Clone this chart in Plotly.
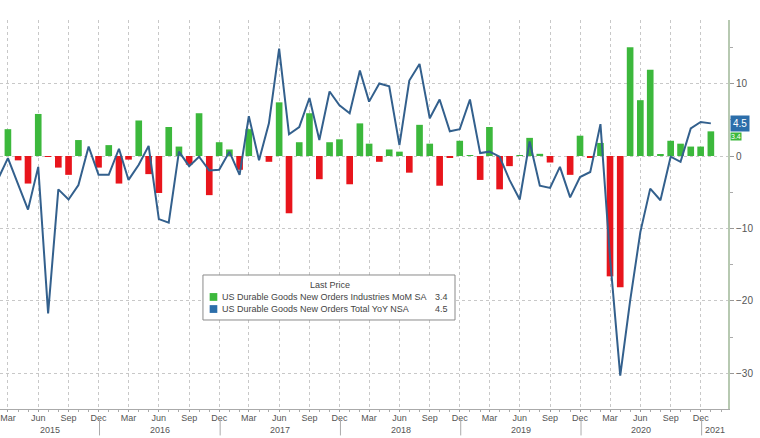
import pandas as pd
import plotly.graph_objects as go

# ---------------- data ----------------
months = pd.date_range("2015-02-01", "2021-01-01", freq="MS")

# US Durable Goods New Orders Industries MoM SA (%), Feb 2015 .. Jan 2021
mom = [None,
       3.7, -0.6, -3.8, 5.8, -0.1, -1.6, -2.6, 2.2, 0.0, -1.6,
       1.5, -3.8, -0.5, 4.9, -2.5, -5.1, 4.0, 1.3, -1.2, 5.9, -5.4, 1.9,
       0.9, -1.9, 3.7, 0.0, -0.8, 7.4, -7.9, 1.9, 5.9, -3.2, 1.9, 2.3,
       -3.9, 4.5, 1.7, -0.8, 0.9, 0.6, -2.3, 4.3, 1.7, -4.1, -0.2, 2.1,
       0.1, -3.3, 4.0, -4.6, -1.4, 0.1, 2.5, 0.3, -0.9, 0.0, -2.6, 2.8,
       -0.2, 1.8, -16.6, -18.1, 15.0, 7.7, 11.9, 0.2, 2.1, 1.7, 1.3, 1.3,
       3.4]

# US Durable Goods New Orders Total YoY NSA (%), Feb 2015 .. Jan 2021
yoy = [-3.0,
       -0.3, -3.9, -7.4, -1.5, -21.7, -4.6, -6.0, -4.0, 1.3, -2.6,
       -2.6, 1.0, -3.3, -1.2, 1.4, -8.7, -9.2, 0.6, -1.4, -0.1, -2.0, -1.9,
       0.6, -2.6, 5.5, -0.6, 4.5, 14.8, 3.0, 4.0, 8.0, 2.2, 8.9, 7.0,
       5.9, 11.8, 7.5, 10.0, 9.6, 1.5, 10.4, 12.7, 5.2, 7.8, 3.4, 3.7,
       7.8, 0.4, 0.6, -0.1, -3.3, -6.0, 2.0, -4.1, -4.4, -1.5, -5.7, -2.9,
       -2.2, 4.4, -14.0, -30.3, -20.0, -10.5, -4.5, -6.1, -0.1, -0.8, 3.8, 4.7,
       4.5]

series_names = ["US Durable Goods New Orders Industries MoM SA",
                "US Durable Goods New Orders Total YoY NSA"]
last_values = ["3.4", "4.5"]
years = [2015, 2016, 2017, 2018, 2019, 2020, 2021]
y_ticks = [-30, -20, -10, 0, 10]

# ---------------- style ----------------
GREEN = "#3cb83c"
RED = "#e8151c"
BLUE = "#33608d"
TAG_BLUE = "#2c6eaa"
FONT = "Liberation Sans"
x_lo, x_hi = pd.Timestamp("2015-02-05"), pd.Timestamp("2021-02-22")

bar_colors = [RED if (v is not None and v < 0) else GREEN for v in mom]

fig = go.Figure()
fig.add_trace(go.Bar(x=months, y=mom, marker=dict(color=bar_colors, line=dict(width=0)),
                     name=series_names[0], showlegend=False))
fig.add_trace(go.Scatter(x=months, y=yoy, mode="lines", line=dict(color=BLUE, width=2),
                         name=series_names[1], showlegend=False))

fig.update_layout(
    width=760, height=438,
    margin=dict(l=0, r=32, t=20, b=29),
    paper_bgcolor="white", plot_bgcolor="white",
    bargap=0.28,
    font=dict(family=FONT, size=9, color="#555555"),
    xaxis=dict(
        type="date", range=[x_lo, x_hi],
        tick0="2015-03-01", dtick="M3", tickformat="%b",
        ticks="outside", ticklen=2, tickcolor="#999999",
        ticklabelstandoff=-2,
        showgrid=True, gridcolor="#c8c8c8", griddash="dot", gridwidth=1,
        showline=True, linecolor="#aaaaaa", linewidth=1,
        minor=dict(dtick="M1", ticks="outside", ticklen=2, tickcolor="#aaaaaa", showgrid=False),
        tickfont=dict(size=9, color="#555555"),
        zeroline=False,
    ),
    yaxis=dict(
        side="right", range=[-34.9, 18.76],
        tickvals=y_ticks, ticks="outside", ticklen=4, tickcolor="#999999",
        showgrid=True, gridcolor="#c8c8c8", griddash="dot", gridwidth=1,
        showline=True, linecolor="#b7c9b1", linewidth=2,
        minor=dict(tickvals=[-25, -15, -5, 5, 15], ticks="outside", ticklen=3,
                   tickcolor="#aaaaaa", showgrid=False),
        zeroline=False,
        tickfont=dict(size=10, color="#555555"),
    ),
)

# year separators and labels under the month labels
seps = [pd.Timestamp(f"{y}-12-04") for y in years[:-1]]
bounds = [x_lo] + seps + [x_hi]
for i, yr in enumerate(years):
    mid = bounds[i] + (bounds[i + 1] - bounds[i]) / 2
    fig.add_annotation(x=mid, y=-0.053, xref="x", yref="paper", text=str(yr),
                       showarrow=False, xanchor="center", yanchor="middle",
                       font=dict(size=9, color="#555555"))
for s in seps:
    fig.add_shape(type="line", xref="x", yref="paper", x0=s, x1=s, y0=-0.025, y1=-0.068,
                  line=dict(color="#aaaaaa", width=1))

# last-value tags on the right axis (green one tucked just below the blue one)
fig.add_annotation(x=1, y=float(last_values[0]), xref="paper", yref="y", text=last_values[0],
                   showarrow=False, xanchor="left", yanchor="top", xshift=2, yshift=-1,
                   bgcolor=GREEN, font=dict(size=7, color="white"), borderpad=0)
fig.add_annotation(x=1, y=float(last_values[1]), xref="paper", yref="y", text=last_values[1],
                   showarrow=False, xanchor="left", yanchor="middle", xshift=2,
                   bgcolor=TAG_BLUE, font=dict(size=10, color="white"), borderpad=2)

# legend box
fig.add_shape(type="rect", xref="paper", yref="paper", x0=0.2788, x1=0.625, y0=0.2288, y1=0.3445,
              line=dict(color="#8a8a8a", width=1), fillcolor="white", layer="above")
fig.add_annotation(x=0.453, y=0.319, xref="paper", yref="paper", text="Last Price", showarrow=False,
                   xanchor="center", yanchor="middle", font=dict(size=9, color="#444444"))
row_y = [0.288, 0.257]
for name, val, col, ry in zip(series_names, last_values, [GREEN, TAG_BLUE], row_y):
    fig.add_shape(type="rect", xref="paper", yref="paper", x0=0.288, x1=0.2985,
                  y0=ry - 0.01, y1=ry + 0.01, line=dict(width=0), fillcolor=col, layer="above")
    fig.add_annotation(x=0.302, y=ry, xref="paper", yref="paper", text=name, showarrow=False,
                       xanchor="left", yanchor="middle", font=dict(size=9, color="#444444"))
    fig.add_annotation(x=0.618, y=ry, xref="paper", yref="paper", text=val, showarrow=False,
                       xanchor="right", yanchor="middle", font=dict(size=9, color="#444444"))

fig.write_html("out.html")
